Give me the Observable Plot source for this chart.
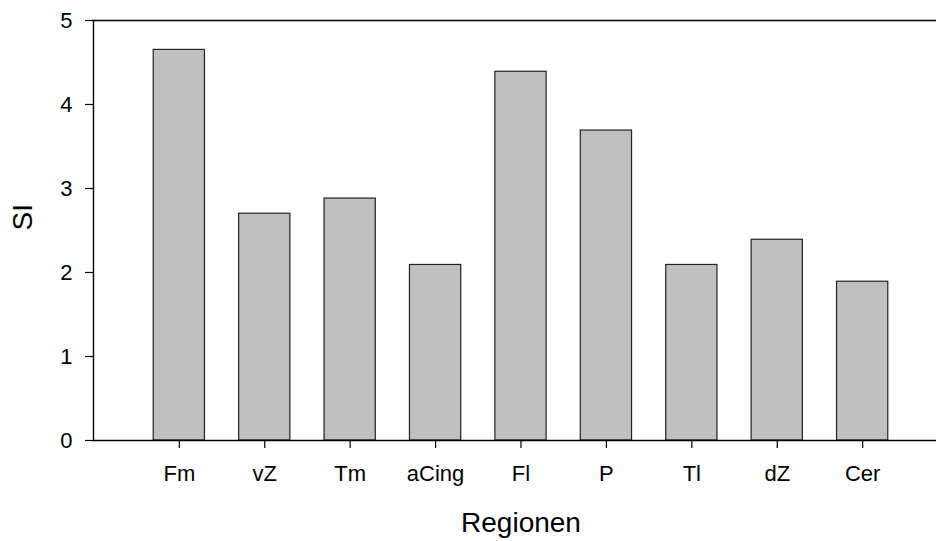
<!DOCTYPE html>
<html>
<head>
<meta charset="utf-8">
<script src="https://cdn.jsdelivr.net/npm/d3@7"></script>
<script src="https://cdn.jsdelivr.net/npm/@observablehq/plot@0.6"></script>
<style>
  html, body { margin: 0; padding: 0; background: #fff; overflow: hidden; }
  #chart { width: 936px; height: 541px; overflow: hidden; }
  #chart svg { max-width: none !important; }
</style>
</head>
<body>
<div id="chart"></div>
<script>
const regions = ["Fm", "vZ", "Tm", "aCing", "Fl", "P", "Tl", "dZ", "Cer"];
const siValues = [4.65, 2.70, 2.88, 2.09, 4.39, 3.69, 2.09, 2.39, 1.89];
const yTicks = [0, 1, 2, 3, 4, 5];
const xTitle = "Regionen";
const yTitle = "SI";

const data = regions.map((r, i) => ({region: r, si: siValues[i]}));

const chart = Plot.plot({
  width: 950,
  height: 541,
  marginLeft: 93,
  marginRight: 2,
  marginTop: 20,
  marginBottom: 101,
  style: {fontFamily: "'Liberation Sans', Arial, sans-serif", fontSize: "22px", color: "#000", background: "#fff", overflow: "hidden", maxWidth: "none"},
  x: {type: "band", domain: regions, paddingInner: 0.4, paddingOuter: 0.705, align: 0.5, round: false},
  y: {domain: [0, 5]},
  marks: [
    Plot.barY(data, {x: "region", y: "si", fill: "#c0c0c0", stroke: "#222", strokeWidth: 1.2}),
    Plot.ruleY([0, 5], {stroke: "#000", strokeWidth: 1.4}),
    Plot.frame({anchor: "left", stroke: "#000", strokeWidth: 1.4}),
    Plot.axisY(yTicks, {anchor: "left", tickSize: 8, tickPadding: 13, fontSize: 22, label: null, strokeWidth: 1.2, tickFormat: d3.format("d")}),
    Plot.axisX({anchor: "bottom", tickSize: 8, tickPadding: 17, fontSize: 22, label: null, strokeWidth: 1.2}),
    Plot.text([xTitle], {text: d => d, frameAnchor: "bottom", dy: 83, fontSize: 28, lineAnchor: "middle"}),
    Plot.text([yTitle], {text: d => d, frameAnchor: "left", dx: -70, rotate: -90, fontSize: 28, lineAnchor: "middle"})
  ]
});
document.getElementById("chart").appendChild(chart);
</script>
</body>
</html>
